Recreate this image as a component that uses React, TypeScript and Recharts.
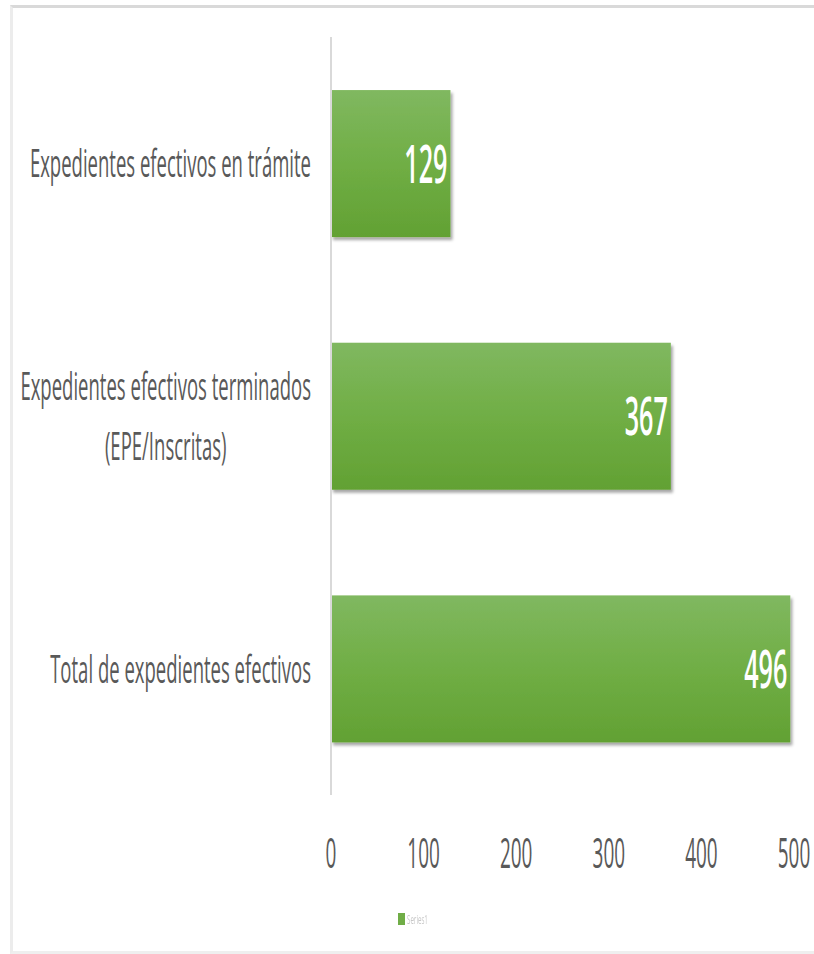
import { useLayoutEffect, useRef, useState } from 'react'
import { Bar, BarChart, LabelList, Legend, XAxis, YAxis } from 'recharts'

const categories = [
  'Expedientes efectivos en trámite',
  'Expedientes efectivos terminados\n(EPE/Inscritas)',
  'Total de expedientes efectivos',
]
const values = [129, 367, 496]
const xTicks = [0, 100, 200, 300, 400, 500]
const seriesName = 'Series1'

const data = categories.map((name, i) => ({ name, value: values[i] }))

const FONT = '"Open Sans", sans-serif'
// the reference text is squeezed horizontally
const SQUEEZE = 0.475

function CategoryTick({ x, y, payload }: any) {
  const lines = String(payload.value).split('\n')
  const firstRef = useRef<SVGTextElement>(null)
  const [w, setW] = useState(0)
  useLayoutEffect(() => {
    if (firstRef.current) setW(firstRef.current.getComputedTextLength())
  }, [payload.value])
  const lh = 60
  const top = -((lines.length - 1) * lh) / 2
  return (
    <g transform={`translate(${x - 18},${y}) scale(${SQUEEZE},1)`}>
      {lines.map((line, i) => (
        <text
          key={i}
          ref={i === 0 ? firstRef : undefined}
          x={i === 0 ? 0 : -w / 2}
          y={top + i * lh}
          dy="0.36em"
          textAnchor={i === 0 ? 'end' : 'middle'}
          fontFamily={FONT}
          fontSize={39}
          fill="#595959"
        >
          {line}
        </text>
      ))}
    </g>
  )
}

function ValueTick({ x, y, payload }: any) {
  return (
    <g transform={`translate(${x},${y + 50}) scale(${SQUEEZE * 0.95},1)`}>
      <text x={0} y={0} dy="0.36em" textAnchor="middle" fontFamily={FONT} fontSize={42} fill="#595959">
        {payload.value}
      </text>
    </g>
  )
}

function BarValue({ x, y, width, height, value }: any) {
  return (
    <g transform={`translate(${x + width - 3},${y + height / 2}) scale(${SQUEEZE},1)`}>
      <text x={0} y={0} dy="0.36em" textAnchor="end" fontFamily={FONT} fontSize={53} fontWeight={600} fill="#ffffff">
        {value}
      </text>
    </g>
  )
}

function GreenBar({ x, y, width, height }: any) {
  return <rect x={x} y={y} width={width} height={height} fill="url(#barGrad)" filter="url(#barShadow)" />
}

function LegendBox({ payload }: any) {
  return (
    <div style={{ display: 'flex', justifyContent: 'flex-start', alignItems: 'center', height: 30, paddingLeft: 398 }}>
      {(payload || []).map((p: any) => (
        <div key={p.value} style={{ display: 'flex', alignItems: 'center' }}>
          <span style={{ display: 'inline-block', width: 7, height: 12, background: '#70ad47' }} />
          <span
            style={{
              display: 'inline-block',
              marginLeft: 2,
              fontFamily: FONT,
              fontSize: 13,
              color: '#c8c8c8',
              transform: `scaleX(${SQUEEZE})`,
              transformOrigin: 'left center',
            }}
          >
            {p.value}
          </span>
        </div>
      ))}
    </div>
  )
}

export default function App() {
  return (
    <div style={{ position: 'absolute', left: 0, top: 0, width: 814, height: 954, background: '#ffffff', overflow: 'hidden' }}>
      <div
        style={{
          position: 'absolute',
          left: 10,
          top: 5,
          width: 810,
          height: 943,
          borderTop: '3px solid #d9d9d9',
          borderLeft: '3px solid #ececec',
          borderBottom: '3px solid #efefef',
        }}
      />
      <div style={{ position: 'absolute', left: 0, top: 0 }}>
        <BarChart
          width={814}
          height={954}
          data={data}
          layout="vertical"
          margin={{ top: 37, right: 20, bottom: 20, left: 0 }}
          barCategoryGap="21%"
        >
          <defs>
            <linearGradient id="barGrad" x1="0" y1="0" x2="0" y2="1">
              <stop offset="0%" stopColor="#80b860" />
              <stop offset="50%" stopColor="#70ae45" />
              <stop offset="100%" stopColor="#62a133" />
            </linearGradient>
            <filter id="barShadow" x="-5%" y="-5%" width="115%" height="120%">
              <feDropShadow dx="2" dy="3" stdDeviation="1.5" floodColor="#000000" floodOpacity="0.35" />
            </filter>
          </defs>
          <XAxis
            type="number"
            domain={[0, 500]}
            ticks={xTicks}
            axisLine={false}
            tickLine={false}
            height={109}
            tick={<ValueTick />}
            interval={0}
          />
          <YAxis
            type="category"
            dataKey="name"
            width={331}
            axisLine={{ stroke: '#d9d9d9', strokeWidth: 2 }}
            tickLine={false}
            tickSize={0}
            tick={<CategoryTick />}
            interval={0}
          />
          <Legend verticalAlign="bottom" content={<LegendBox />} />
          <Bar dataKey="value" name={seriesName} shape={<GreenBar />} isAnimationActive={false}>
            <LabelList dataKey="value" content={<BarValue />} />
          </Bar>
        </BarChart>
      </div>
    </div>
  )
}
